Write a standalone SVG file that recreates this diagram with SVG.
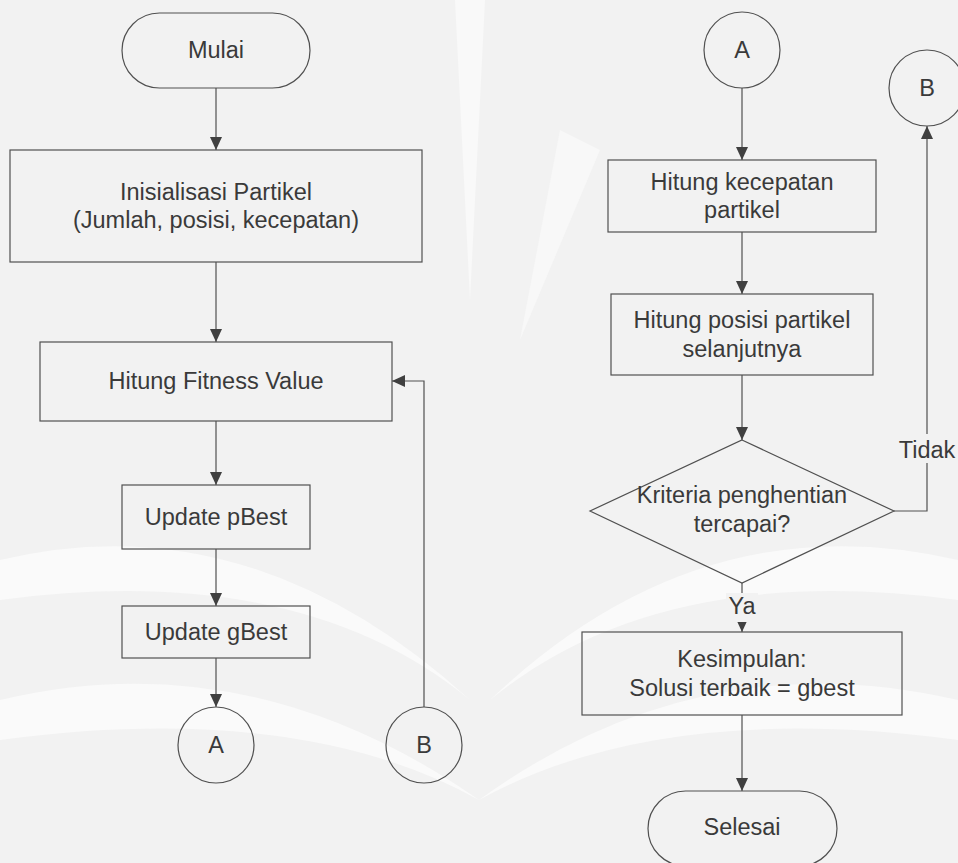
<svg xmlns="http://www.w3.org/2000/svg" width="958" height="863" viewBox="0 0 958 863">
<defs>
<style>
.box{fill:none;stroke:#505050;stroke-width:1.2}
.t{font-family:"Liberation Sans",Arial,sans-serif;font-size:23.5px;fill:#3a3a3a;text-anchor:middle}
.ln{fill:none;stroke:#505050;stroke-width:1.2}
.lbl{fill:#f2f2f2}
</style>
<marker id="ah" markerUnits="userSpaceOnUse" markerWidth="14" markerHeight="14" viewBox="0 0 14 14" refX="13" refY="7" orient="auto">
<path d="M0,1 L13,7 L0,13 Z" fill="#404040"/>
</marker>
</defs>
<rect width="958" height="863" fill="#f2f2f2"/>
<g id="watermark">
<path d="M455,0 L470,300 L485,0 Z" fill="#f9f9f9"/>
<path d="M560,130 L520,340 L600,150 Z" fill="#f8f8f8"/>
<path d="M0,560 Q250,500 470,700 Q300,560 0,600 Z" fill="#fafafa"/>
<path d="M958,560 Q700,500 490,700 Q660,560 958,600 Z" fill="#fafafa"/>
<path d="M0,700 Q250,640 479,800 Q300,700 0,740 Z" fill="#fafafa"/>
<path d="M958,700 Q700,640 479,800 Q660,700 958,740 Z" fill="#fafafa"/>
</g>
<g id="connectors">
<path class="ln" d="M216,88 V150" marker-end="url(#ah)"/>
<path class="ln" d="M216,262 V342" marker-end="url(#ah)"/>
<path class="ln" d="M216,421 V485" marker-end="url(#ah)"/>
<path class="ln" d="M216,549 V606" marker-end="url(#ah)"/>
<path class="ln" d="M216,658 V707" marker-end="url(#ah)"/>
<path class="ln" d="M424,707 V381 H392" marker-end="url(#ah)"/>
<path class="ln" d="M742,88 V160" marker-end="url(#ah)"/>
<path class="ln" d="M742,232 V294" marker-end="url(#ah)"/>
<path class="ln" d="M742,375 V440" marker-end="url(#ah)"/>
<path class="ln" d="M894,511 H927 V126" marker-end="url(#ah)"/>
<path class="ln" d="M742,583 V632" marker-end="url(#ah)"/>
<path class="ln" d="M742,715 V791" marker-end="url(#ah)"/>
<rect class="lbl" x="897" y="434" width="61" height="29"/>
<text class="t" x="927" y="458">Tidak</text>
<rect class="lbl" x="726" y="593" width="32" height="29"/>
<text class="t" x="742" y="614">Ya</text>
</g>
<g id="mulai">
<rect class="box" x="122" y="13" width="188" height="75" rx="37.5" ry="37.5"/>
<text class="t" x="216" y="58">Mulai</text>
</g>
<g id="inisialisasi">
<rect class="box" x="10" y="150" width="412" height="112"/>
<text class="t" x="216" y="200">Inisialisasi Partikel</text>
<text class="t" x="216" y="228">(Jumlah, posisi, kecepatan)</text>
</g>
<g id="fitness">
<rect class="box" x="40" y="342" width="352" height="79"/>
<text class="t" x="216" y="389">Hitung Fitness Value</text>
</g>
<g id="pbest">
<rect class="box" x="122" y="485" width="188" height="64"/>
<text class="t" x="216" y="525">Update pBest</text>
</g>
<g id="gbest">
<rect class="box" x="122" y="606" width="188" height="52"/>
<text class="t" x="216" y="640">Update gBest</text>
</g>
<g id="conA1">
<circle class="box" cx="216" cy="745" r="38"/>
<text class="t" x="216" y="753">A</text>
</g>
<g id="conB1">
<circle class="box" cx="424" cy="745" r="38"/>
<text class="t" x="424" y="753">B</text>
</g>
<g id="conA2">
<circle class="box" cx="742" cy="50" r="38"/>
<text class="t" x="742" y="58">A</text>
</g>
<g id="conB2">
<circle class="box" cx="927" cy="88" r="38"/>
<text class="t" x="927" y="96">B</text>
</g>
<g id="kecepatan">
<rect class="box" x="608" y="160" width="268" height="72"/>
<text class="t" x="742" y="190">Hitung kecepatan</text>
<text class="t" x="742" y="218">partikel</text>
</g>
<g id="posisi">
<rect class="box" x="611" y="294" width="262" height="81"/>
<text class="t" x="742" y="328">Hitung posisi partikel</text>
<text class="t" x="742" y="357">selanjutnya</text>
</g>
<g id="kriteria">
<polygon class="box" points="742,440 894,511 742,583 590,511"/>
<text class="t" x="742" y="503">Kriteria penghentian</text>
<text class="t" x="742" y="532">tercapai?</text>
</g>
<g id="kesimpulan">
<rect class="box" x="582" y="632" width="320" height="83"/>
<text class="t" x="742" y="667">Kesimpulan:</text>
<text class="t" x="742" y="696">Solusi terbaik = gbest</text>
</g>
<g id="selesai">
<rect class="box" x="648" y="791" width="189" height="75" rx="37.5" ry="37.5"/>
<text class="t" x="742" y="835">Selesai</text>
</g>
</svg>
